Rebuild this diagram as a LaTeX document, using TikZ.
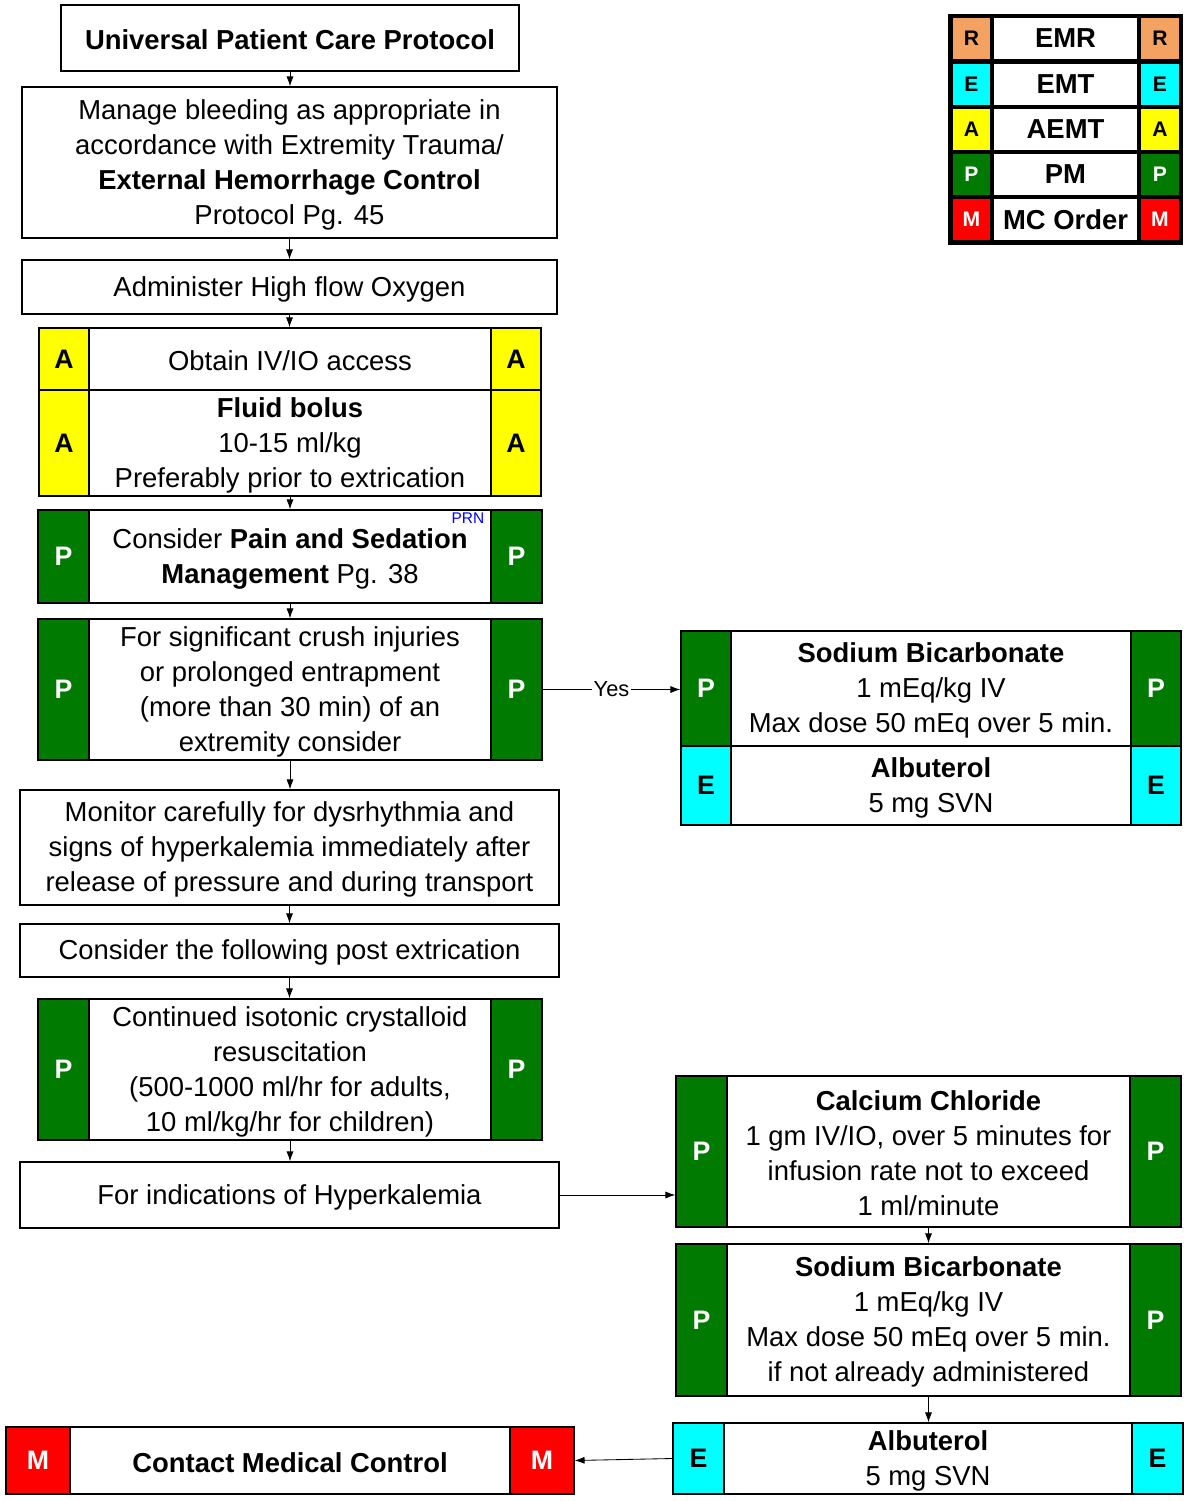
\documentclass[tikz,border=0pt]{standalone}
\usepackage{fontspec}
\setmainfont{Liberation Sans}
\usetikzlibrary{positioning,fit,arrows.meta}
\definecolor{pmgreen}{RGB}{0,122,0}
\definecolor{emtcyan}{RGB}{0,255,255}
\definecolor{aemtyellow}{RGB}{255,255,0}
\definecolor{mcred}{RGB}{255,0,0}
\definecolor{emrorange}{RGB}{244,162,97}

\tikzset{
  box/.style={draw, fill=white, line width=1pt, inner sep=0pt},
  tagfont/.style={font=\bfseries\fontsize{19}{22}\selectfont},
  tagA/.style={box, fill=aemtyellow},
  tagP/.style={box, fill=pmgreen},
  tagE/.style={box, fill=emtcyan},
  tagM/.style={box, fill=mcred},
  tagAtext/.style={tagfont, text=black},
  tagPtext/.style={tagfont, text=white},
  tagEtext/.style={tagfont, text=black},
  tagMtext/.style={tagfont, text=white},
  txt/.style={align=center, inner sep=0pt, yshift=-0.05cm},
  legcell/.style={inner sep=0pt},
  legletter/.style={inner sep=0pt, font=\bfseries\fontsize{15}{18}\selectfont},
  legword/.style={inner sep=0pt, font=\bfseries\fontsize{19.5}{22}\selectfont},
  arr/.style={-{Latex[length=7pt,width=5pt]}, line width=0.6pt},
  yeslbl/.style={fill=white, inner sep=1pt, font=\fontsize{15.5}{18}\selectfont},
}

% plain step box: name, x1, y1, x2, y2, text
\newcommand{\stepbox}[6]{%
  \node[box, fit={(#2,#3) (#4,#5)}] (#1) {};
  \node[txt] (#1-t) at (#1.center) {#6};
}

% box with a coloured level tag at both ends
% name, x1, y1, x2, y2, tag style, tag letter, tag width, text
\newcommand{\tagbox}[9]{%
  \node[box, fit={(#2,#3) (#4,#5)}] (#1) {};
  \node[#6, fit={(#2,#3) (#2+#8,#5)}] (#1-l) {};
  \node[#6, fit={(#4-#8,#3) (#4,#5)}] (#1-r) {};
  \node[#6text, inner sep=0pt] at (#1-l.center) {#7};
  \node[#6text, inner sep=0pt] at (#1-r.center) {#7};
  \node[txt] (#1-t) at (#1.center) {#9};
}

\begin{document}
\begin{tikzpicture}[x=0.025cm, y=-0.025cm, font=\fontsize{19.5}{24.9}\selectfont]
  \useasboundingbox (0,0) rectangle (1184,1501);

  % left column
  \stepbox{upc}{61}{5}{519}{71}{\textbf{Universal Patient Care Protocol}}
  \stepbox{bleed}{22}{87}{557}{238}{Manage bleeding as appropriate in\\
    accordance with Extremity Trauma/\\\textbf{External Hemorrhage Control}\\Protocol Pg. 45}
  \stepbox{oxy}{22}{260}{557}{314}{Administer High flow Oxygen}
  \tagbox{iv}{39}{328}{541}{390}{tagA}{A}{50}{Obtain IV/IO access}
  \tagbox{fluid}{39}{390}{541}{496}{tagA}{A}{50}{\textbf{Fluid bolus}\\10-15 ml/kg\\Preferably prior to extrication}
  \tagbox{pain}{38}{510}{542}{603}{tagP}{P}{51}{Consider \textbf{Pain and Sedation}\\\textbf{Management} Pg. 38}
  \node[text=blue, inner sep=0pt, font=\fontsize{11}{13}\selectfont] (prn) at (468,518) {PRN};
  \tagbox{crush}{38}{619}{542}{760}{tagP}{P}{51}{For significant crush injuries\\or prolonged entrapment\\(more than 30 min) of an\\extremity consider}
  \stepbox{monitor}{20}{790}{559}{905}{Monitor carefully for dysrhythmia and\\
    signs of hyperkalemia immediately after\\release of pressure and during transport}
  \stepbox{post}{20}{924}{559}{977}{Consider the following post extrication}
  \tagbox{fluids}{38}{999}{542}{1140}{tagP}{P}{51}{Continued isotonic crystalloid\\resuscitation\\(500-1000 ml/hr for adults,\\10 ml/kg/hr for children)}
  \stepbox{hyper}{20}{1162}{559}{1228}{For indications of Hyperkalemia}
  \tagbox{contact}{6}{1427}{574}{1494}{tagM}{M}{64}{\textbf{Contact Medical Control}}

  % right column
  \tagbox{bicarb}{681}{631}{1181}{746}{tagP}{P}{50}{\textbf{Sodium Bicarbonate}\\1 mEq/kg IV\\Max dose 50 mEq over 5 min.}
  \tagbox{albut}{681}{746}{1181}{825}{tagE}{E}{50}{\textbf{Albuterol}\\5 mg SVN}
  \tagbox{calcium}{676}{1076}{1181}{1227}{tagP}{P}{51}{\textbf{Calcium Chloride}\\1 gm IV/IO, over 5 minutes for\\infusion rate not to exceed\\1 ml/minute}
  \tagbox{bicarbb}{676}{1244}{1181}{1396}{tagP}{P}{51}{\textbf{Sodium Bicarbonate}\\1 mEq/kg IV\\Max dose 50 mEq over 5 min.\\if not already administered}
  \tagbox{albutb}{673}{1423}{1183}{1494}{tagE}{E}{51}{\textbf{Albuterol}\\5 mg SVN}

  % legend
  \node[fill=black, inner sep=0pt, fit={(948,14) (1183,245)}] (legend) {};
  \foreach \ty/\cc/\ll/\tc/\ww in {18/emrorange/R/black/EMR, 64/emtcyan/E/black/EMT,
      109/aemtyellow/A/black/AEMT, 154/pmgreen/P/white/PM, 199/mcred/M/white/MC Order}
  {
    \node[legcell, fill=\cc, fit={(953,\ty) (990,\ty+41)}] (leg\ll-l) {};
    \node[legcell, fill=white, fit={(994,\ty) (1137,\ty+41)}] (leg\ll) {};
    \node[legcell, fill=\cc, fit={(1141,\ty) (1179,\ty+41)}] (leg\ll-r) {};
    \node[legletter, text=\tc] at (leg\ll-l.center) {\ll};
    \node[legword] at (leg\ll.center) {\ww};
    \node[legletter, text=\tc] at (leg\ll-r.center) {\ll};
  }

  % connectors
  \draw[arr] (upc.south) -- (upc.south |- bleed.north);
  \draw[arr] (bleed.south) -- (bleed.south |- oxy.north);
  \draw[arr] (oxy.south) -- (oxy.south |- iv.north);
  \draw[arr] (fluid.south) -- (fluid.south |- pain.north);
  \draw[arr] (pain.south) -- (pain.south |- crush.north);
  \draw[arr] (crush.south) -- (crush.south |- monitor.north);
  \draw[arr] (monitor.south) -- (monitor.south |- post.north);
  \draw[arr] (post.south) -- (post.south |- fluids.north);
  \draw[arr] (fluids.south) -- (fluids.south |- hyper.north);
  \draw[arr] (crush-r.east) -- node[yeslbl] (yes) {Yes} (crush-r.east -| bicarb-l.west);
  \draw[arr] (hyper.east) -- (hyper.east -| calcium-l.west);
  \draw[arr] (calcium.south) -- (calcium.south |- bicarbb.north);
  \draw[arr] (bicarbb.south) -- (bicarbb.south |- albutb.north);
  \draw[arr] (albutb-l.west) -- (contact-r.east);
\end{tikzpicture}
\end{document}
